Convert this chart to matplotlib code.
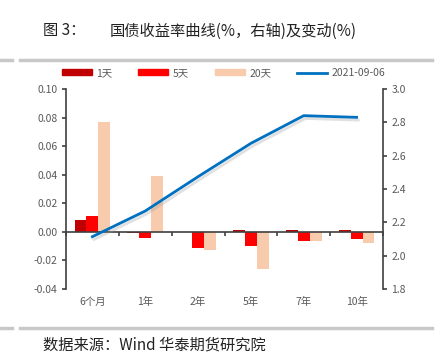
import matplotlib
matplotlib.use("Agg")
import matplotlib.pyplot as plt
import matplotlib.patheffects as pe
import matplotlib.transforms as mtrans
from matplotlib.lines import Line2D
from matplotlib.patches import Patch
import numpy as np

plt.rcParams['font.family'] = ['Noto Sans CJK SC', 'DejaVu Sans']

categories = ["6个月", "1年", "2年", "5年", "7年", "10年"]
chg_1d = [0.008, -0.001, 0.0, 0.001, 0.001, 0.001]
chg_5d = [0.011, -0.004, -0.0115, -0.0097, -0.0065, -0.0047]
chg_20d = [0.077, 0.039, -0.013, -0.026, -0.0065, -0.008]
yield_curve = [2.114, 2.268, 2.474, 2.674, 2.840, 2.830]
series_names = ["1天", "5天", "20天", "2021-09-06"]
left_ticks = [0.10, 0.08, 0.06, 0.04, 0.02, 0.00, -0.02, -0.04]
right_ticks = [3.0, 2.8, 2.6, 2.4, 2.2, 2.0, 1.8]

c1, c5, c20, cl = "#C00000", "#FF0000", "#F8CBAD", "#0070C0"
tick_color = "#595959"
spine_color = "#404040"

fig = plt.figure(figsize=(4.4, 3.56), dpi=100)
ax = fig.add_axes([66/440, 1-289/356, (383-66)/440, 200/356])

x = np.arange(len(categories))
w = 0.225
ax.bar(x - w, chg_1d, w, color=c1, zorder=2)
ax.bar(x, chg_5d, w, color=c5, zorder=2)
ax.bar(x + w, chg_20d, w, color=c20, zorder=2)

ax.set_xlim(-0.5, len(categories) - 0.5)
ax.set_ylim(-0.04, 0.10)
ax.set_yticks(left_ticks)
ax.set_yticklabels([f"{v:.2f}" for v in left_ticks])
for s in ["top", "right"]:
    ax.spines[s].set_visible(False)
ax.spines["bottom"].set_position(("data", 0))
ax.spines["bottom"].set_color(spine_color)
ax.spines["left"].set_color(spine_color)
ax.spines["bottom"].set_linewidth(1.2)
ax.spines["left"].set_linewidth(1.2)
ax.set_xticks(np.arange(len(categories) + 1) - 0.5)
ax.set_xticklabels([])
ax.tick_params(axis="x", direction="out", length=3, width=1.2, color=spine_color)
ax.tick_params(axis="y", direction="out", length=3, width=1.2, color=spine_color,
               labelcolor=tick_color, labelsize=7.5, pad=3)

trans = mtrans.blended_transform_factory(ax.transData, ax.transAxes)
for i, c in enumerate(categories):
    ax.text(i, -0.065, c, transform=trans, ha="center", va="center",
            fontsize=7.5, color=tick_color)

ax2 = ax.twinx()
ax2.set_ylim(1.8, 3.0)
ax2.set_yticks(right_ticks)
ax2.set_yticklabels([f"{v:.1f}" for v in right_ticks])
for s in ["top", "left", "bottom"]:
    ax2.spines[s].set_visible(False)
ax2.spines["right"].set_color(spine_color)
ax2.spines["right"].set_linewidth(1.2)
ax2.tick_params(axis="y", direction="out", length=3, width=1.2, color=spine_color,
                labelcolor=tick_color, labelsize=7.5, pad=3)
ax2.plot(x, yield_curve, color=cl, lw=2.0, zorder=3,
         path_effects=[pe.SimpleLineShadow(offset=(1.2, -2.0), shadow_color="#999999", alpha=0.3),
                       pe.Normal()])

# legend
handles = [Patch(color=c1), Patch(color=c5), Patch(color=c20),
           Line2D([0], [0], color=cl, lw=2.0)]
fig.legend(handles, series_names, loc="center", bbox_to_anchor=(0.508, 1-73/356),
           ncol=4, frameon=False, fontsize=7.5, labelcolor=tick_color,
           handlelength=2.9, handleheight=0.55, handletextpad=0.4, columnspacing=2.5)

# title and source
fig.text(43/440, 1-31/356, "图 3：", fontsize=11, color="#222222", va="center", ha="left")
fig.text(110/440, 1-31/356, "国债收益率曲线(%，右轴)及变动(%)", fontsize=11, color="#222222",
         va="center", ha="left")
fig.text(43/440, 1-345/356, "数据来源：Wind 华泰期货研究院", fontsize=11, color="#222222",
         va="center", ha="left")

# gray separator lines
for yy in [60, 328]:
    fig.add_artist(Line2D([0/440, 12/440], [1-yy/356]*2, color="#C8C8C8", lw=2.5))
    fig.add_artist(Line2D([20/440, 432/440], [1-yy/356]*2, color="#C8C8C8", lw=2.5))

fig.savefig("out.png", dpi=100)
